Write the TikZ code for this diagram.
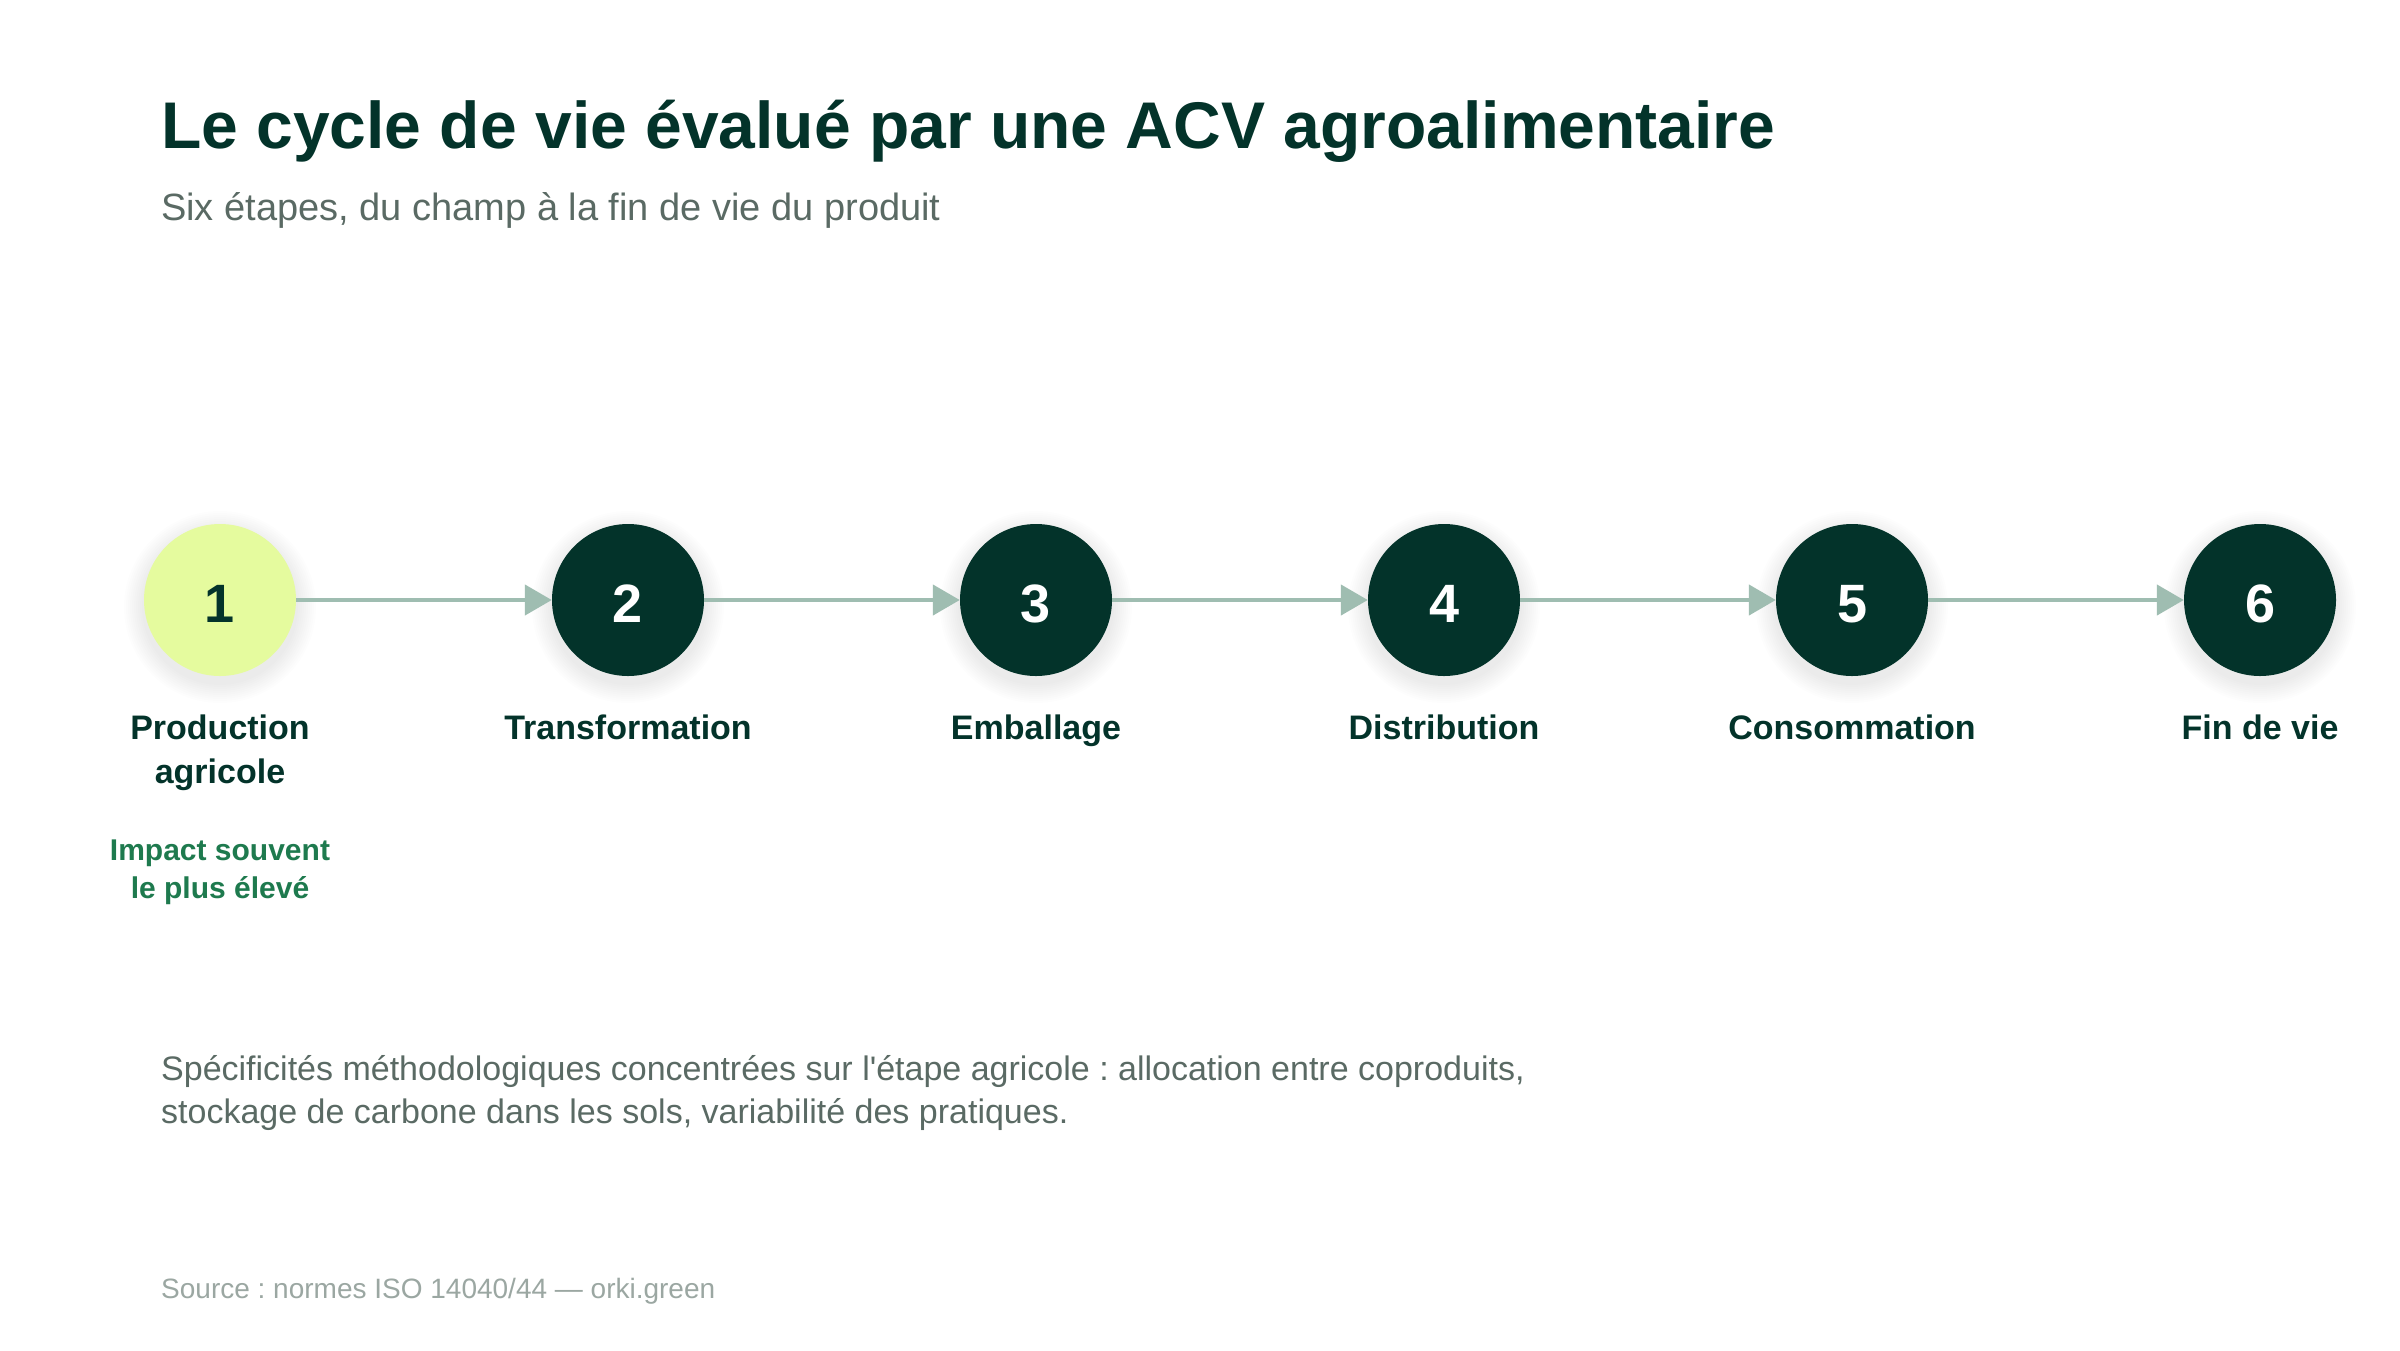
\documentclass[tikz,border=0pt]{standalone}
\usepackage{fontspec}
\setmainfont[Ligatures=TeXOff]{Liberation Sans}
\usetikzlibrary{arrows.meta}
\definecolor{dkgreen}{HTML}{03332A}
\definecolor{lime}{HTML}{E5FB9E}
\definecolor{arrowc}{HTML}{9FBDB1}
\definecolor{impact}{HTML}{1E7A4E}
\definecolor{bodyg}{HTML}{5A6A64}
\definecolor{srcg}{HTML}{9BA7A2}
\tikzset{
  stepcircle/.style={circle, minimum size=152pt, inner sep=0pt, fill=dkgreen},
  firstcircle/.style={stepcircle, fill=lime},
  numtxt/.style={anchor=base, inner sep=0pt, font=\fontsize{54}{64}\selectfont\bfseries},
  steplabel/.style={anchor=base, inner sep=0pt, text=dkgreen, font=\fontsize{34}{44}\selectfont\bfseries},
  impacttxt/.style={anchor=base, inner sep=0pt, text=impact, font=\fontsize{30}{38}\selectfont\bfseries},
  bodytxt/.style={anchor=base west, inner sep=0pt, text=bodyg, font=\fontsize{34}{44}\selectfont},
  srctxt/.style={anchor=base west, inner sep=0pt, text=srcg, font=\fontsize{28}{32}\selectfont},
  flowarrow/.style={draw=arrowc, line width=4.5pt, -{Triangle[length=27pt,width=30pt]}, shorten >=0pt},
}
\begin{document}
\frenchspacing
\begin{tikzpicture}[x=1pt,y=-1pt]
\useasboundingbox (0,0) rectangle (2400,1350);
\fill[white] (0,0) rectangle (2400,1350);
% title
\node[anchor=base west, inner sep=0pt, text=dkgreen, font=\fontsize{66}{79}\selectfont\bfseries] (title) at (161,148) {Le cycle de vie évalué par une ACV agroalimentaire};
\node[anchor=base west, inner sep=0pt, text=bodyg, font=\fontsize{38}{45}\selectfont] (subtitle) at (161,220) {Six étapes, du champ à la fin de vie du produit};
% shadows
\foreach \cx in {220,628,1036,1444,1852,2260}{
  \foreach \r in {2,4,...,20}{
    \fill[black, opacity=0.008] (\cx,607) circle (76+\r);
  }
}
% circles
\node[firstcircle] (c1) at (220,600) {};
\node[stepcircle] (c2) at (628,600) {};
\node[stepcircle] (c3) at (1036,600) {};
\node[stepcircle] (c4) at (1444,600) {};
\node[stepcircle] (c5) at (1852,600) {};
\node[stepcircle] (c6) at (2260,600) {};
\node[numtxt, text=dkgreen] (n1) at (220,622) {1};
\node[numtxt, text=white] (n2) at (628,622) {2};
\node[numtxt, text=white] (n3) at (1036,622) {3};
\node[numtxt, text=white] (n4) at (1444,622) {4};
\node[numtxt, text=white] (n5) at (1852,622) {5};
\node[numtxt, text=white] (n6) at (2260,622) {6};
% arrows
\draw[flowarrow] (c1) -- (c2);
\draw[flowarrow] (c2) -- (c3);
\draw[flowarrow] (c3) -- (c4);
\draw[flowarrow] (c4) -- (c5);
\draw[flowarrow] (c5) -- (c6);
% labels
\node[steplabel] (l1a) at (220,739) {Production};
\node[steplabel] (l1b) at (220,783) {agricole};
\node[steplabel] (l2) at (628,739) {Transformation};
\node[steplabel] (l3) at (1036,739) {Emballage};
\node[steplabel] (l4) at (1444,739) {Distribution};
\node[steplabel] (l5) at (1852,739) {Consommation};
\node[steplabel] (l6) at (2260,739) {Fin de vie};
\node[impacttxt] (i1) at (220,860) {Impact souvent};
\node[impacttxt] (i2) at (220,898) {le plus élevé};
% body
\node[bodytxt] (b1) at (161,1080) {Spécificités méthodologiques concentrées sur l'étape agricole : allocation entre coproduits,};
\node[bodytxt] (b2) at (161,1123) {stockage de carbone dans les sols, variabilité des pratiques.};
\node[srctxt] (src) at (161,1298) {Source : normes ISO 14040/44 — orki.green};
\end{tikzpicture}
\end{document}
